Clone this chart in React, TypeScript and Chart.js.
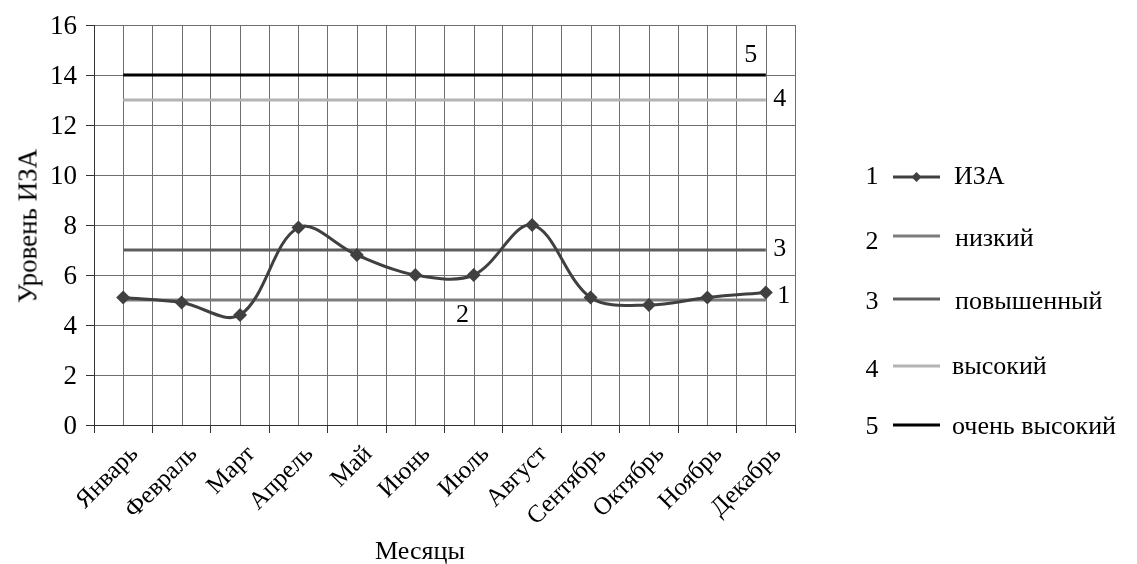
import React, { useEffect, useRef, useState } from "react";
import { Chart, registerables } from "chart.js";

Chart.register(...registerables);

const TEXT_FONT = "Liberation Serif, Times New Roman, Tinos, FreeSerif, serif";

const months = [
  "Январь", "Февраль", "Март", "Апрель", "Май", "Июнь",
  "Июль", "Август", "Сентябрь", "Октябрь", "Ноябрь", "Декабрь",
];

// Monthly air pollution index (ИЗА)
const izaValues = [5.1, 4.9, 4.4, 7.9, 6.8, 6.0, 6.0, 8.0, 5.1, 4.8, 5.1, 5.3];

// Pollution level thresholds
const lowLevel = [5, 5, 5, 5, 5, 5, 5, 5, 5, 5, 5, 5];
const raisedLevel = [7, 7, 7, 7, 7, 7, 7, 7, 7, 7, 7, 7];
const highLevel = [13, 13, 13, 13, 13, 13, 13, 13, 13, 13, 13, 13];
const veryHighLevel = [14, 14, 14, 14, 14, 14, 14, 14, 14, 14, 14, 14];

const yTicks = [0, 2, 4, 6, 8, 10, 12, 14, 16];

const seriesNames = ["ИЗА", "низкий", "повышенный", "высокий", "очень высокий"];
const seriesNumbers = ["1", "2", "3", "4", "5"];
const seriesColors = ["#404040", "#7c7c7c", "#5e5e5e", "#b4b4b4", "#000000"];

const xTitle = "Месяцы";
const yTitle = "Уровень ИЗА";

const GRID = "#6e6e6e";
const AXIS = "#333333";

// Extra vertical grid lines through the middle of every month
const centerLinesPlugin = {
  id: "centerLines",
  beforeDatasetsDraw(chart: any) {
    const { ctx, chartArea, scales } = chart;
    const x = scales.x;
    ctx.save();
    ctx.strokeStyle = GRID;
    ctx.lineWidth = 1;
    for (let i = 0; i < months.length; i++) {
      const px = Math.round(x.getPixelForValue(i)) + 0.5;
      ctx.beginPath();
      ctx.moveTo(px, chartArea.top);
      ctx.lineTo(px, chartArea.bottom);
      ctx.stroke();
    }
    ctx.restore();
  },
};

// Line samples of the side legend (the legend text is HTML)
const legendRows = [177, 236, 299, 366, 425];
const legendSwatchPlugin = {
  id: "legendSwatches",
  afterDraw(chart: any) {
    const { ctx } = chart;
    const x0 = 893;
    const x1 = 940;
    ctx.save();
    for (let i = 0; i < seriesNames.length; i++) {
      const cy = legendRows[i];
      ctx.strokeStyle = seriesColors[i];
      ctx.lineWidth = 3;
      ctx.beginPath();
      ctx.moveTo(x0, cy);
      ctx.lineTo(x1, cy);
      ctx.stroke();
      if (i === 0) {
        const cx = (x0 + x1) / 2;
        ctx.fillStyle = seriesColors[0];
        ctx.beginPath();
        ctx.moveTo(cx, cy - 5);
        ctx.lineTo(cx + 5, cy);
        ctx.lineTo(cx, cy + 5);
        ctx.lineTo(cx - 5, cy);
        ctx.closePath();
        ctx.fill();
      }
    }
    ctx.restore();
  },
};

function levelDataset(label: string, data: number[], color: string, order: number) {
  return {
    label,
    data,
    borderColor: color,
    backgroundColor: color,
    borderWidth: 3,
    pointRadius: 0,
    pointHoverRadius: 0,
    tension: 0,
    fill: false,
    order,
  };
}

type Geo = {
  xCenters: number[];
  yPix: (v: number) => number;
  left: number;
  right: number;
  top: number;
  bottom: number;
  step: number;
};

// Text placed by its baseline
function BaselineText(props: { x: number; baseline: number; size: number; align?: "left" | "center" | "right"; children: React.ReactNode }) {
  const { x, baseline, size, align = "left", children } = props;
  const shift = align === "center" ? "-50%" : align === "right" ? "-100%" : "0";
  return (
    <div
      style={{
        position: "absolute",
        left: x,
        top: baseline - 0.84 * size,
        fontFamily: TEXT_FONT,
        fontSize: size,
        lineHeight: 1,
        whiteSpace: "nowrap",
        color: "#000",
        transform: `translateX(${shift})`,
      }}
    >
      {children}
    </div>
  );
}

export default function App() {
  const canvasRef = useRef<HTMLCanvasElement | null>(null);
  const [geo, setGeo] = useState<Geo | null>(null);

  useEffect(() => {
    const canvas = canvasRef.current;
    if (!canvas) return;
    const chart = new Chart(canvas, {
      type: "line",
      data: {
        labels: months,
        datasets: [
          {
            label: seriesNames[0],
            data: izaValues,
            borderColor: seriesColors[0],
            backgroundColor: seriesColors[0],
            borderWidth: 3,
            tension: 0.35,
            pointStyle: "rectRot",
            pointRadius: 7,
            pointBorderWidth: 0,
            fill: false,
            order: 0,
          },
          levelDataset(seriesNames[1], lowLevel, seriesColors[1], 1),
          levelDataset(seriesNames[2], raisedLevel, seriesColors[2], 2),
          levelDataset(seriesNames[3], highLevel, seriesColors[3], 3),
          levelDataset(seriesNames[4], veryHighLevel, seriesColors[4], 4),
        ],
      },
      options: {
        animation: false,
        responsive: false,
        maintainAspectRatio: false,
        events: [],
        layout: { padding: { top: 25, right: 342, bottom: 0, left: 0 } },
        plugins: {
          legend: { display: false },
          tooltip: { enabled: false },
        },
        scales: {
          x: {
            type: "category",
            offset: true,
            grid: {
              offset: true,
              color: GRID,
              lineWidth: 1,
              drawTicks: true,
              tickLength: 8,
              tickColor: AXIS,
            },
            border: { color: AXIS, width: 1 },
            ticks: {
              color: "rgba(0,0,0,0)",
              font: { size: 20 },
              maxRotation: 45,
              minRotation: 45,
              autoSkip: false,
            },
            title: { display: false },
            afterFit(scale: any) {
              scale.height = 139;
            },
          },
          y: {
            type: "linear",
            min: yTicks[0],
            max: yTicks[yTicks.length - 1],
            afterBuildTicks(scale: any) {
              scale.ticks = yTicks.map((v) => ({ value: v }));
            },
            ticks: {
              color: "rgba(0,0,0,0)",
              font: { size: 20 },
            },
            grid: {
              color: GRID,
              lineWidth: 1,
              drawTicks: true,
              tickLength: 8,
              tickColor: AXIS,
            },
            border: { color: AXIS, width: 1 },
            title: { display: false },
            afterFit(scale: any) {
              scale.width = 94;
            },
          },
        },
      },
      plugins: [centerLinesPlugin, legendSwatchPlugin],
    } as any);

    const xs = chart.scales.x as any;
    const ys = chart.scales.y as any;
    setGeo({
      xCenters: months.map((_, i) => xs.getPixelForValue(i)),
      yPix: (v: number) => ys.getPixelForValue(v),
      left: chart.chartArea.left,
      right: chart.chartArea.right,
      top: chart.chartArea.top,
      bottom: chart.chartArea.bottom,
      step: xs.getPixelForValue(1) - xs.getPixelForValue(0),
    });

    return () => chart.destroy();
  }, []);

  const last = months.length - 1;

  return (
    <div style={{ position: "fixed", left: 0, top: 0, width: 1137, height: 564, background: "#fff", overflow: "hidden", fontFamily: TEXT_FONT }}>
      <canvas ref={canvasRef} width={1137} height={564} style={{ display: "block", position: "absolute", left: 0, top: 0 }} />
      {geo && (
        <>
          {/* y tick labels */}
          {yTicks.map((v) => (
            <div
              key={`y${v}`}
              style={{
                position: "absolute",
                left: geo.left - 17,
                top: geo.yPix(v),
                transform: "translate(-100%, -50%)",
                fontFamily: TEXT_FONT,
                fontSize: 27,
                lineHeight: 1,
                color: "#000",
                whiteSpace: "nowrap",
              }}
            >
              {v}
            </div>
          ))}

          {/* month labels, rotated */}
          {months.map((m, i) => (
            <div
              key={m}
              style={{
                position: "absolute",
                left: geo.xCenters[i] + 10,
                top: geo.bottom + 24,
                transform: "translate(-100%, -50%) rotate(-45deg)",
                transformOrigin: "right center",
                fontFamily: TEXT_FONT,
                fontSize: 25,
                lineHeight: 1,
                color: "#000",
                whiteSpace: "nowrap",
              }}
            >
              {m}
            </div>
          ))}

          {/* axis titles */}
          <div
            style={{
              position: "absolute",
              left: 28,
              top: (geo.top + geo.bottom) / 2 + 1,
              transform: "translate(-50%, -50%) rotate(-90deg)",
              fontFamily: TEXT_FONT,
              fontSize: 27,
              lineHeight: 1,
              color: "#000",
              whiteSpace: "nowrap",
            }}
          >
            {yTitle}
          </div>
          <div
            style={{
              position: "absolute",
              left: 420,
              top: 551,
              transform: "translate(-50%, -50%)",
              fontFamily: TEXT_FONT,
              fontSize: 26,
              lineHeight: 1,
              color: "#000",
              whiteSpace: "nowrap",
            }}
          >
            {xTitle}
          </div>

          {/* series number tags inside the plot */}
          <BaselineText x={geo.xCenters[last] - 15} baseline={geo.yPix(veryHighLevel[last]) - 12} size={26} align="center">
            {seriesNumbers[4]}
          </BaselineText>
          <BaselineText x={geo.xCenters[last] + 14} baseline={geo.yPix(highLevel[last]) + 7} size={26} align="center">
            {seriesNumbers[3]}
          </BaselineText>
          <BaselineText x={geo.xCenters[last] + 14} baseline={geo.yPix(raisedLevel[last]) + 7} size={26} align="center">
            {seriesNumbers[2]}
          </BaselineText>
          <BaselineText x={geo.xCenters[last] + 18} baseline={geo.yPix(izaValues[last]) + 11} size={26} align="center">
            {seriesNumbers[0]}
          </BaselineText>
          <BaselineText x={geo.xCenters[5] + geo.step * 0.81} baseline={geo.yPix(lowLevel[5]) + 23} size={26} align="center">
            {seriesNumbers[1]}
          </BaselineText>

          {/* side legend text */}
          {seriesNames.map((name, i) => (
            <React.Fragment key={name}>
              <BaselineText x={872} baseline={[185, 250, 310, 378, 435][i]} size={26} align="center">
                {seriesNumbers[i]}
              </BaselineText>
              <BaselineText x={[954, 955, 955, 952, 952][i]} baseline={[185, 247, 310, 375, 435][i]} size={26}>
                {name}
              </BaselineText>
            </React.Fragment>
          ))}
        </>
      )}
    </div>
  );
}
